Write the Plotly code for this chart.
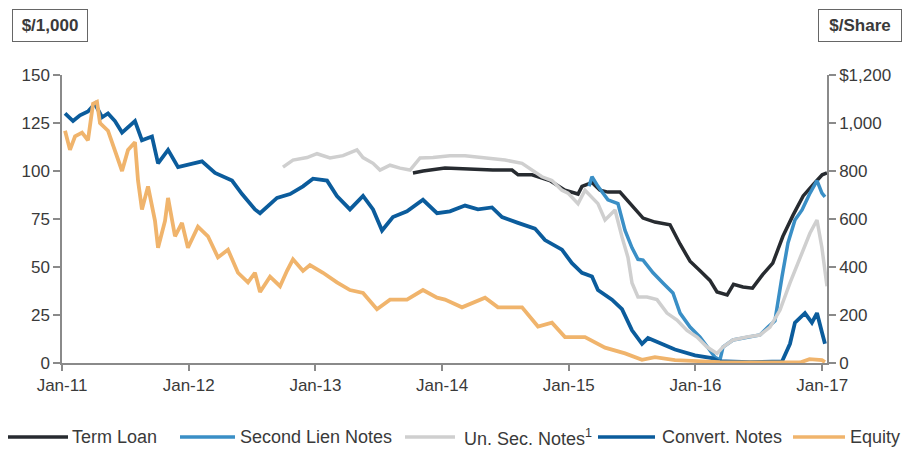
import plotly.graph_objects as go

# ---------------- data ----------------
x_ticks = [2011, 2012, 2013, 2014, 2015, 2016, 2017]
x_ticktext = ["Jan-11", "Jan-12", "Jan-13", "Jan-14", "Jan-15", "Jan-16", "Jan-17"]
y_ticks = [0, 25, 50, 75, 100, 125, 150]
y2_ticks = [0, 200, 400, 600, 800, 1000, 1200]
y2_ticktext = ["0", "200", "400", "600", "800", "1,000", "$1,200"]

term_loan_x = [2013.770, 2013.850, 2014.023, 2014.200, 2014.400, 2014.552, 2014.600,
               2014.710, 2014.850, 2014.970, 2015.073, 2015.104, 2015.183, 2015.246,
               2015.309, 2015.404, 2015.507, 2015.586, 2015.680, 2015.799, 2015.878,
               2015.957, 2016.036, 2016.114, 2016.170, 2016.250, 2016.300, 2016.375,
               2016.450, 2016.530, 2016.610, 2016.690, 2016.770, 2016.850, 2016.930,
               2017.000, 2017.038]
term_loan_y = [99, 100, 101.5, 101, 100.5, 100.5, 98,
               98, 95, 90, 88, 92, 94, 90,
               89, 89, 81, 75.5, 73.4, 72, 62,
               53, 48, 43, 37, 35.5, 41, 39.6,
               39, 46, 52, 66, 77, 87, 93,
               98, 99]

second_lien_x = [2015.160, 2015.183, 2015.230, 2015.309, 2015.388, 2015.444, 2015.499,
                 2015.546, 2015.586, 2015.665, 2015.743, 2015.822, 2015.878, 2015.957,
                 2016.036, 2016.091, 2016.154, 2016.193, 2016.217, 2016.296, 2016.406,
                 2016.509, 2016.572, 2016.627, 2016.683, 2016.730, 2016.785, 2016.841,
                 2016.904, 2016.959, 2016.998, 2017.022]
second_lien_y = [92, 97, 92, 85, 83, 69, 60,
                 54, 53.6, 47, 41.7, 36.5, 26, 18.7,
                 13.5, 8.3, 3, 1.5, 8.3, 12, 13.5,
                 14.6, 18.7, 22, 45, 62.5, 74.5, 79.7,
                 88.5, 95, 88.5, 86.5]

unsec_x = [2012.744, 2012.823, 2012.934, 2013.013, 2013.115, 2013.218, 2013.328,
           2013.376, 2013.455, 2013.510, 2013.589, 2013.668, 2013.747, 2013.826,
           2013.928, 2014.062, 2014.181, 2014.362, 2014.496, 2014.631, 2014.710,
           2014.788, 2014.867, 2014.946, 2014.994, 2015.073, 2015.128, 2015.230,
           2015.286, 2015.365, 2015.420, 2015.467, 2015.499, 2015.546, 2015.617,
           2015.696, 2015.775, 2015.854, 2015.933, 2016.012, 2016.091, 2016.170,
           2016.217, 2016.296, 2016.406, 2016.509, 2016.588, 2016.667, 2016.746,
           2016.825, 2016.904, 2016.959, 2016.998, 2017.038]
unsec_y = [102, 105.7, 107, 109, 106.8, 108, 111,
           107, 104, 100.5, 103, 101.5, 100.5, 106.8,
           107, 108, 108, 106.8, 105.7, 104, 100.5,
           97, 95, 90, 88.5, 83, 90, 83,
           74.5, 79.7, 65.6, 55, 41.7, 34.4, 34.4,
           33, 26, 22.4, 17, 13.5, 8.3, 5,
           8.3, 12, 13.5, 14.6, 18.7, 27.6, 41.7,
           55, 67.7, 74.5, 60, 40]

convert_x = [2011.024, 2011.087, 2011.142, 2011.205, 2011.260, 2011.316, 2011.363,
             2011.418, 2011.474, 2011.576, 2011.631, 2011.710, 2011.758, 2011.837,
             2011.916, 2012.026, 2012.105, 2012.208, 2012.342, 2012.421, 2012.523,
             2012.563, 2012.697, 2012.800, 2012.902, 2012.981, 2013.092, 2013.170,
             2013.273, 2013.376, 2013.455, 2013.526, 2013.612, 2013.723, 2013.849,
             2013.960, 2014.062, 2014.181, 2014.283, 2014.394, 2014.473, 2014.599,
             2014.733, 2014.812, 2014.946, 2015.025, 2015.104, 2015.183, 2015.230,
             2015.341, 2015.420, 2015.499, 2015.578, 2015.625, 2015.736, 2015.838,
             2015.996, 2016.130, 2016.178, 2016.430, 2016.683, 2016.746, 2016.785,
             2016.864, 2016.919, 2016.959, 2016.998, 2017.022]
convert_y = [130, 126, 129, 131, 135, 128, 130,
             126, 120, 126, 116, 118, 104, 111,
             102, 104, 105, 99, 95, 88, 80,
             78, 86, 88, 92, 96, 95, 87,
             80, 87, 80, 69, 76, 79, 85,
             78, 79, 82, 80, 81, 76, 73,
             70, 64, 59, 52, 47, 45, 38,
             33, 28, 17, 10, 13, 10, 7,
             4, 2.5, 1, 0.5, 0.8, 10, 21,
             26, 21, 26, 16, 10]

equity_x = [2011.024, 2011.063, 2011.103, 2011.158, 2011.205, 2011.245, 2011.276,
            2011.300, 2011.363, 2011.418, 2011.474, 2011.521, 2011.576, 2011.600,
            2011.631, 2011.679, 2011.734, 2011.758, 2011.813, 2011.837, 2011.892,
            2011.947, 2011.994, 2012.073, 2012.152, 2012.231, 2012.310, 2012.389,
            2012.468, 2012.523, 2012.563, 2012.642, 2012.721, 2012.776, 2012.823,
            2012.902, 2012.957, 2013.060, 2013.170, 2013.273, 2013.376, 2013.486,
            2013.589, 2013.723, 2013.849, 2013.960, 2014.023, 2014.157, 2014.339,
            2014.441, 2014.631, 2014.757, 2014.867, 2014.970, 2015.128, 2015.286,
            2015.444, 2015.578, 2015.680, 2015.838, 2016.000, 2016.193, 2016.500,
            2016.825, 2016.900, 2016.998, 2017.022]
equity_y = [968, 888, 944, 960, 928, 1080, 1088,
            1000, 968, 888, 800, 888, 920, 760,
            640, 736, 592, 480, 592, 688, 528,
            584, 480, 568, 528, 440, 472, 376,
            336, 376, 296, 360, 320, 384, 432,
            384, 408, 376, 336, 304, 292, 224,
            264, 264, 304, 272, 264, 232, 272,
            232, 232, 152, 168, 108, 108, 64,
            40, 13, 24, 12, 8, 4, 2,
            2, 16, 12, 4]

series_names = ["Term Loan", "Second Lien Notes", "Un. Sec. Notes<sup>1</sup>",
                "Convert. Notes", "Equity"]
series_colors = ["#272b30", "#3a8fc6", "#cfcfcf", "#0b5c9c", "#f0b46c"]

# ---------------- figure ----------------
FONT = "Liberation Sans, Arial, sans-serif"
TXT = "#3a3a3a"
AX = "#8a8a8a"
W, H = 904, 449
ML, MR, MT, MB = 62, 77, 75, 86
PW, PH = W - ML - MR, H - MT - MB


def px_x(px):
    return (px - ML) / PW


def px_y(py):
    return (H - MB - py) / PH


fig = go.Figure()
series = [(term_loan_x, term_loan_y, "y"), (second_lien_x, second_lien_y, "y"),
          (unsec_x, unsec_y, "y"), (convert_x, convert_y, "y"), (equity_x, equity_y, "y2")]
widths = [3.5, 3.5, 3.5, 3.8, 3.8]
for (xs, ys, ax), name, col, w in zip(series, series_names, series_colors, widths):
    fig.add_trace(go.Scatter(x=xs, y=ys, mode="lines", name=name, yaxis=ax,
                             line=dict(color=col, width=w), showlegend=False))

# legend drawn as line samples + text, matching the reference spacing
leg_line_px = [(8, 68), (180, 235), (405, 455), (598, 655), (793, 845)]
leg_text_px = [70, 238, 462, 660, 848]
leg_y = px_y(437)
shapes = []
annotations = []
for (a, b), tx, name, col in zip(leg_line_px, leg_text_px, series_names, series_colors):
    shapes.append(dict(type="line", xref="paper", yref="paper", x0=px_x(a), x1=px_x(b),
                       y0=leg_y, y1=leg_y, line=dict(color=col, width=3.5)))
    annotations.append(dict(text=name, xref="paper", yref="paper", x=px_x(tx), y=leg_y,
                            xanchor="left", yanchor="middle", showarrow=False,
                            font=dict(size=18, color=TXT)))

annotations += [
    dict(text="<b>$/1,000</b>", xref="paper", yref="paper", x=px_x(12), y=px_y(9),
         xanchor="left", yanchor="top", showarrow=False, width=74, height=31,
         bordercolor="#666", borderwidth=1, borderpad=0, bgcolor="white",
         font=dict(size=17, color=TXT)),
    dict(text="<b>$/Share</b>", xref="paper", yref="paper", x=px_x(818), y=px_y(9),
         xanchor="left", yanchor="top", showarrow=False, width=82, height=31,
         bordercolor="#666", borderwidth=1, borderpad=0, bgcolor="white",
         font=dict(size=17, color=TXT)),
]

fig.update_layout(
    width=W, height=H,
    margin=dict(l=ML, r=MR, t=MT, b=MB, autoexpand=False),
    paper_bgcolor="white", plot_bgcolor="white",
    font=dict(family=FONT, size=17, color=TXT),
    showlegend=False,
    xaxis=dict(range=[2011, 2017.038], tickvals=x_ticks, ticktext=x_ticktext,
               showgrid=False, zeroline=False, showline=True, linecolor=AX, linewidth=1.5,
               ticks="outside", ticklen=6, tickcolor=AX, tickwidth=1.5, automargin=False),
    yaxis=dict(range=[0, 150], tickvals=y_ticks, showgrid=False, zeroline=False,
               showline=True, linecolor=AX, linewidth=1.5, ticks="outside", ticklen=7,
               tickcolor=AX, tickwidth=1.5, automargin=False),
    yaxis2=dict(range=[0, 1200], tickvals=y2_ticks, ticktext=y2_ticktext, overlaying="y",
                side="right", showgrid=False, zeroline=False, showline=True, linecolor=AX,
                linewidth=1.5, ticks="outside", ticklen=7, tickcolor=AX, tickwidth=1.5,
                automargin=False),
    shapes=shapes,
    annotations=annotations,
)

fig.write_html("out.html")
